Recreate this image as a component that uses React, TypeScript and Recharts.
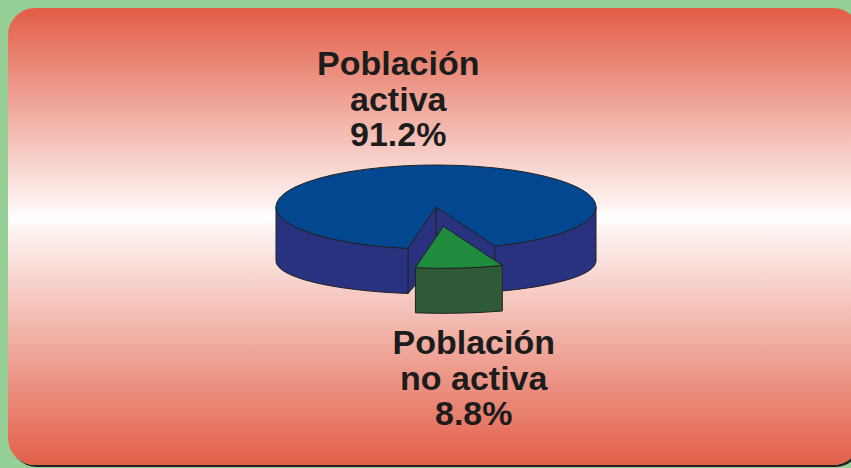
import { PieChart, Pie } from 'recharts';

// values
const names = ['Población activa', 'Población no activa'];
const shares = [91.2, 8.8];

const data = names.map((name, i) => ({ name, value: shares[i] }));

const TOP_COLORS: Record<string, string> = {
  'Población activa': '#02478f',
  'Población no activa': '#1f8b3d',
};
const SIDE_COLORS: Record<string, string> = {
  'Población activa': '#29327f',
  'Población no activa': '#2f5a37',
};
const EXPLODE: Record<string, number> = {
  'Población no activa': 74,
};

const RAD = Math.PI / 180;
const K = 42 / 160; // top ellipse flattening
const KB = 33 / 160; // bottom ellipse flattening
const DEPTH = 54;
const EDGE = '#222';

const pt = (cx: number, cy: number, r: number, k: number, a: number) =>
  [cx + r * Math.cos(a * RAD), cy - r * k * Math.sin(a * RAD)];

const Slice3D = (props: any) => {
  const { cx, cy, outerRadius: r, midAngle } = props;
  let s = props.startAngle;
  let e = props.endAngle;
  if (e < s) [s, e] = [e, s];
  const name = props.payload?.name ?? props.name;
  const ex = EXPLODE[name] ?? 0;
  const x0 = cx + ex * Math.cos(midAngle * RAD);
  const y0 = cy - ex * K * Math.sin(midAngle * RAD);
  const top = (a: number) => pt(x0, y0, r, K, a);
  const bot = (a: number) => pt(x0, y0 + DEPTH, r, KB, a);
  const side = SIDE_COLORS[name];

  const walls: JSX.Element[] = [];
  const full = e - s >= 359.99;
  const cut = (a: number, key: string) => {
    const [tx, ty] = top(a);
    const [bx, by] = bot(a);
    walls.push(
      <path key={key} d={`M${x0},${y0}L${tx},${ty}L${bx},${by}L${x0},${y0 + DEPTH}Z`}
        fill={side} stroke={EDGE} strokeWidth={1} strokeLinejoin="round" />
    );
  };
  if (!full) {
    if (Math.cos(s * RAD) > 0) cut(s, 'cs');
    if (Math.cos(e * RAD) < 0) cut(e, 'ce');
  }

  for (let n = Math.floor(s / 360) - 1; n <= Math.ceil(e / 360) + 1; n++) {
    const a = Math.max(s, 180 + 360 * n);
    const b = Math.min(e, 360 + 360 * n);
    if (b - a <= 0.01) continue;
    const [ax, ay] = top(a);
    const [bx, by] = top(b);
    const [cbx, cby] = bot(b);
    const [cax, cay] = bot(a);
    const large = b - a > 180 ? 1 : 0;
    walls.push(
      <path key={`o${n}`}
        d={`M${ax},${ay}A${r},${r * K} 0 ${large} 0 ${bx},${by}L${cbx},${cby}A${r},${r * KB} 0 ${large} 1 ${cax},${cay}Z`}
        fill={side} stroke={EDGE} strokeWidth={1} strokeLinejoin="round" />
    );
  }

  const [sx, sy] = top(s);
  const [ex2, ey2] = top(e);
  const large = e - s > 180 ? 1 : 0;
  return (
    <g>
      {walls}
      <path
        d={`M${x0},${y0}L${sx},${sy}A${r},${r * K} 0 ${large} 0 ${ex2},${ey2}Z`}
        fill={TOP_COLORS[name]} stroke={EDGE} strokeWidth={1} strokeLinejoin="round"
      />
    </g>
  );
};

const renderLabel = (props: any) => {
  const { cx, cy, midAngle, outerRadius: r, name, value } = props;
  const ex = EXPLODE[name] ?? 0;
  const x = cx + 376 * Math.cos(midAngle * RAD);
  const up = Math.sin(midAngle * RAD) > 0;
  const first = name.indexOf(' ');
  const lines = [name.slice(0, first), name.slice(first + 1), `${Number(value).toFixed(1)}%`];
  const lh = 35.5;
  const y = up
    ? cy - r * K - 19 - lh * (lines.length - 1)
    : cy + DEPTH + r * KB + ex * K + 41;
  return (
    <text x={x} y={y} textAnchor="middle" fill="#1c1c1c"
      style={{ fontFamily: '"Liberation Sans", Arial, sans-serif', fontWeight: 700, fontSize: 34 }}>
      {lines.map((l, i) => (
        <tspan key={i} x={x} dy={i === 0 ? 0 : lh}>{l}</tspan>
      ))}
    </text>
  );
};

export default function App() {
  return (
    <div style={{ position: 'absolute', left: 0, top: 0, width: 851, height: 468, overflow: 'hidden', background: '#95cf95' }}>
      <div
        style={{
          position: 'absolute', left: 8, top: 8, width: 852, height: 457, borderRadius: 27,
          background: 'linear-gradient(to bottom, #e25d46 0%, #fdf2f0 43%, #ffffff 46%, #fdf2f0 49%, #e25f48 100%)',
          boxShadow: '2px 2px 0 #222',
        }}
      />
      <div style={{ position: 'absolute', left: 0, top: 0 }}>
        <PieChart width={851} height={468} margin={{ top: 0, right: 0, bottom: 0, left: 0 }}>
          <Pie
            data={data}
            dataKey="value"
            nameKey="name"
            cx={436}
            cy={207}
            outerRadius={160}
            startAngle={291.6}
            endAngle={651.6}
            stroke="none"
            shape={Slice3D}
            label={renderLabel}
            labelLine={false}
            isAnimationActive={false}
          />
        </PieChart>
      </div>
    </div>
  );
}
